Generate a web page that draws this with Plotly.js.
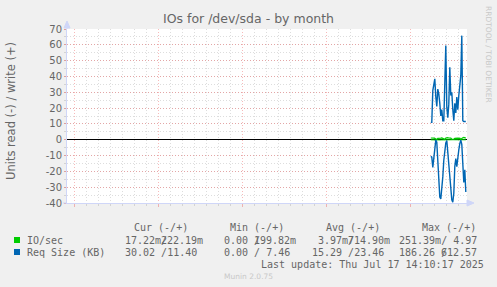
<!DOCTYPE html>
<html>
<head>
<meta charset="utf-8">
<script src="https://cdn.plot.ly/plotly-3.0.1.min.js"></script>
<style>
  html, body { margin: 0; padding: 0; background: #f0f0f0; }
  #chart { width: 497px; height: 287px; }
</style>
</head>
<body>
<div id="chart"></div>
<script>
// ---- data ----
const times = [
  '2025-07-14 16:00','2025-07-14 18:00','2025-07-14 20:00','2025-07-14 22:00',
  '2025-07-15 00:00','2025-07-15 02:00','2025-07-15 04:00','2025-07-15 06:00',
  '2025-07-15 08:00','2025-07-15 10:00','2025-07-15 12:00','2025-07-15 14:00',
  '2025-07-15 16:00','2025-07-15 18:00','2025-07-15 20:00','2025-07-15 22:00',
  '2025-07-16 00:00','2025-07-16 02:00','2025-07-16 04:00','2025-07-16 06:00',
  '2025-07-16 08:00','2025-07-16 10:00','2025-07-16 12:00','2025-07-16 14:00',
  '2025-07-16 16:00','2025-07-16 18:00','2025-07-16 20:00','2025-07-16 22:00',
  '2025-07-17 00:00','2025-07-17 02:00','2025-07-17 04:00','2025-07-17 06:00',
  '2025-07-17 08:00','2025-07-17 10:00','2025-07-17 12:00','2025-07-17 14:00'
];
// write (+)
const reqSizeWrite = [11, 11, 31, 35, 38.5, 27, 21, 32, 29, 23, 15, 19, 12, 12, 33, 59.5, 20.6, 14,
  22.5, 45.8, 28, 30, 19, 12, 23, 17, 27, 19, 28, 33, 40.5, 65.8, 12, 11.5, 11.5, 11.5];
// read (-), plotted below zero
const reqSizeRead = [-10.5, -11, -17.5, -10, -3, -0.3, -1.5, -13, -27.8, -36.2, -37.5, -32, -23.5, -13,
  -5.7, -2, -0.5, -9, -14, -21, -32, -38, -39.5, -34, -17, -12, -17, -10, -6.5, -2.5, -0.3, -3, -16, -27, -19, -33];
const ioWrite = [1.1, 0.9, 1.2, 1.0, 0.9, 0.3, 0.2, 0.9, 1.1, 1.2, 1.0, 1.1, 0.9, 0.3, 0.2, 1.0, 1.2, 1.3,
  1.1, 1.0, 1.0, 0.3, 0.2, 0.3, 0.9, 1.1, 1.2, 1.0, 0.9, 1.0, 0.3, 1.1, 1.3, 1.5, 1.2, 1.0];
const ioRead = [-0.05, -0.1, -0.2, -0.1, -0.05, -0.02, -0.02, -0.1, -0.2, -0.25, -0.15, -0.1, -0.05, -0.02,
  -0.02, -0.05, -0.1, -0.2, -0.1, -0.05, -0.05, -0.02, -0.02, -0.02, -0.1, -0.15, -0.1, -0.05, -0.05, -0.02,
  -0.02, -0.05, -0.1, -0.2, -0.1, -0.05];

const yTickVals = [-40, -30, -20, -10, 0, 10, 20, 30, 40, 50, 60, 70];
const yTickText = ['-40', '-30', '-20', '-10', '0', '10', '20', '30', '40', '50', '60', '70'];
const weekLabelDates = ['2025-06-18 12:00', '2025-06-25 12:00', '2025-07-02 12:00', '2025-07-09 12:00', '2025-07-16 12:00'];
const weekLabels = ['Week 25', 'Week 26', 'Week 27', 'Week 28', 'Week 29'];

const seriesNames = ['IO/sec', 'Req Size (KB)'];
const seriesColors = ['#00cc00', '#0066b3'];
const legendHeaders = ['Cur (-/+)', 'Min (-/+)', 'Avg (-/+)', 'Max (-/+)'];
const lastUpdate = 'Last update: Thu Jul 17 14:10:17 2025';

// ---- layout helpers ----
const W = 497, H = 287, ML = 67, MR = 30, MT = 29, MB = 84;
const PW = W - ML - MR, PH = H - MT - MB;
const px = v => (v - ML) / PW;
const py = v => (H - MB - v) / PH;

const FONT = '#666666';
const MGRID = 'rgba(235,90,90,0.42)';
const GRID = 'rgba(150,150,150,0.32)';
const AXIS = '#CFD6F8';
const MONO = 'DejaVu Sans Mono, monospace';
const SANS = 'DejaVu Sans, sans-serif';

const traces = [
  { x: times, y: ioRead, type: 'scatter', mode: 'lines', line: { color: seriesColors[0], width: 1 }, hoverinfo: 'skip' },
  { x: times, y: ioWrite, type: 'scatter', mode: 'lines', line: { color: seriesColors[0], width: 1.2 }, hoverinfo: 'skip' },
  { x: times, y: reqSizeRead, type: 'scatter', mode: 'lines', line: { color: seriesColors[1], width: 1.4 }, hoverinfo: 'skip' },
  { x: times, y: reqSizeWrite, type: 'scatter', mode: 'lines', line: { color: seriesColors[1], width: 1.4 }, hoverinfo: 'skip' }
];

function txt(text, x, y, opts) {
  return Object.assign({
    text: text, xref: 'paper', yref: 'paper', x: px(x), y: py(y),
    xanchor: 'left', yanchor: 'middle', showarrow: false,
    borderpad: 0, borderwidth: 0,
    font: { family: MONO, size: 10, color: FONT }
  }, opts || {});
}

const annotations = [
  txt('Units read (-) / write (+)', 11, 111, { xanchor: 'center', textangle: -90, font: { family: SANS, size: 11.5, color: FONT } }),
  txt('RRDTOOL / TOBI OETIKER', 489, 54, { xanchor: 'center', textangle: 90, font: { family: SANS, size: 7.5, color: '#c8c8c8' } }),
  txt(legendHeaders[0], 134, 227.5),
  txt(legendHeaders[1], 230, 227.5),
  txt(legendHeaders[2], 325.5, 227.5),
  txt(legendHeaders[3], 422, 227.5),
  txt(seriesNames[0], 26.5, 240),
  txt(seriesNames[1], 26.5, 252),
  // IO/sec row (munin overlaps the slash with the next value)
  txt('17.22m/', 125, 240), txt('222.19m', 161.1, 240),
  txt('0.00 /', 224, 240), txt('199.82m', 254.1, 240),
  txt('3.97m/', 317.7, 240), txt('714.90m', 347.8, 240),
  txt('251.39m/ 4.97', 398.7, 240),
  // Req Size row
  txt('30.02 /11.40', 124.7, 252),
  txt('0.00 / 7.46', 224, 252),
  txt('15.29 /23.46', 311.7, 252),
  txt('186.26 /', 398.7, 252), txt('612.57', 440.8, 252),
  txt(lastUpdate, 261, 264),
  txt('Munin 2.0.75', 248, 276.5, { xanchor: 'center', font: { family: SANS, size: 7.5, color: '#c8c8c8' } })
];

const shapes = [
  // legend swatches
  { type: 'rect', xref: 'paper', yref: 'paper', x0: px(14), x1: px(20), y0: py(243), y1: py(237), fillcolor: seriesColors[0], line: { width: 0 } },
  { type: 'rect', xref: 'paper', yref: 'paper', x0: px(14), x1: px(20), y0: py(255), y1: py(249), fillcolor: seriesColors[1], line: { width: 0 } },
  // axis arrows
  { type: 'path', xref: 'paper', yref: 'paper', path: `M ${px(467)},${py(200)} L ${px(474)},${py(203)} L ${px(467)},${py(206)} Z`, fillcolor: AXIS, line: { color: AXIS, width: 1 } },
  { type: 'path', xref: 'paper', yref: 'paper', path: `M ${px(64)},${py(28)} L ${px(67)},${py(21)} L ${px(70)},${py(28)} Z`, fillcolor: AXIS, line: { color: AXIS, width: 1 } },
  { type: 'line', xref: 'paper', yref: 'paper', x0: px(63), x1: px(67), y0: 0, y1: 0, line: { color: AXIS, width: 1 } },
  { type: 'line', xref: 'paper', yref: 'paper', x0: 0, x1: 0, y0: 1, y1: py(27), line: { color: AXIS, width: 1 } }
];

const xRange = ['2025-06-14 08:24', '2025-07-17 16:24'];

const layout = {
  width: W, height: H,
  margin: { l: ML, r: MR, t: MT, b: MB },
  paper_bgcolor: '#f0f0f0',
  plot_bgcolor: '#ffffff',
  showlegend: false,
  hovermode: false,
  font: { family: SANS, size: 10, color: FONT },
  title: {
    text: 'IOs for /dev/sda - by month',
    font: { family: SANS, size: 12.5, color: FONT },
    xref: 'container', x: 0.5, xanchor: 'center',
    yref: 'container', y: 1 - 19 / H, yanchor: 'middle'
  },
  xaxis: {
    type: 'date', range: xRange,
    tickmode: 'linear', tick0: '2025-06-15 00:00', dtick: 7 * 86400000,
    showticklabels: false,
    ticks: 'outside', ticklen: 3, tickcolor: MGRID, tickwidth: 1,
    showgrid: true, gridcolor: MGRID, griddash: '1px,2px', gridwidth: 1,
    minor: { tickmode: 'linear', tick0: '2025-06-15 00:00', dtick: 86400000, ticks: 'outside', ticklen: 2,
      tickcolor: GRID, showgrid: true, gridcolor: GRID, griddash: '1px,2px', gridwidth: 1 },
    showline: true, linecolor: AXIS, linewidth: 1,
    zeroline: false, fixedrange: true
  },
  xaxis2: {
    type: 'date', range: xRange, overlaying: 'x', anchor: 'y', side: 'bottom',
    tickmode: 'array', tickvals: weekLabelDates, ticktext: weekLabels,
    ticks: 'outside', ticklen: 3, tickcolor: 'rgba(0,0,0,0)',
    showgrid: false, zeroline: false, showline: false,
    tickfont: { family: SANS, size: 10, color: FONT }, fixedrange: true
  },
  yaxis: {
    range: [-40, 70],
    tickmode: 'array', tickvals: yTickVals, ticktext: yTickText,
    ticks: 'outside', ticklen: 2, tickcolor: MGRID,
    showgrid: true, gridcolor: MGRID, griddash: '1px,2px', gridwidth: 1,
    minor: { tickmode: 'linear', tick0: 0, dtick: 5, ticks: 'outside', ticklen: 2, tickcolor: GRID,
      showgrid: true, gridcolor: GRID, griddash: '1px,2px', gridwidth: 1 },
    zeroline: true, zerolinecolor: '#000000', zerolinewidth: 1,
    showline: true, linecolor: AXIS, linewidth: 1,
    tickfont: { family: SANS, size: 10, color: FONT }, fixedrange: true
  },
  annotations: annotations,
  shapes: shapes
};

Plotly.newPlot('chart', traces, layout, { staticPlot: true, displayModeBar: false });
</script>
</body>
</html>
